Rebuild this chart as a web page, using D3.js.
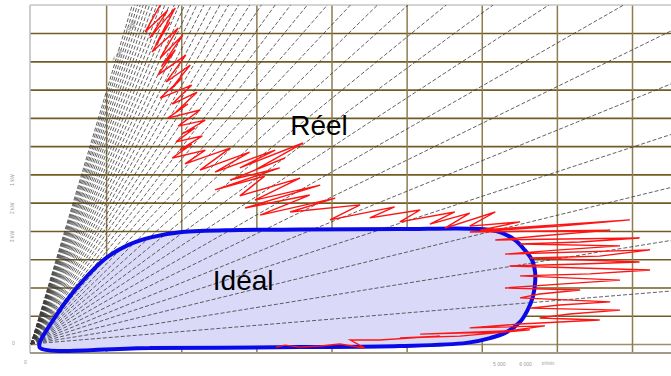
<!DOCTYPE html>
<html>
<head>
<meta charset="utf-8">
<script src="https://cdn.jsdelivr.net/npm/d3@7"></script>
<style>
  body { margin: 0; background: #fff; }
  svg { display: block; font-family: "Liberation Sans", Arial, sans-serif; }
</style>
</head>
<body>
<svg id="chart" width="671" height="376"></svg>
<script>
// grid ticks (data units)
var xTicks = [1, 2, 3, 4, 5, 6, 7, 8];
var yTicks = [0, 1, 2, 3, 4, 5, 6, 7, 8, 9, 10, 11];

// slopes of the dashed iso-lines from the origin
var raySlopes = [0.22, 0.43, 0.65, 0.87, 1.08, 1.30, 1.52, 1.74, 1.95, 2.17,
  2.39, 2.60, 2.82, 3.04, 3.26, 3.47, 3.69, 3.91, 4.12, 4.34,
  4.56, 4.77, 4.99, 5.21, 5.43, 5.64, 5.86, 6.08, 6.29, 6.51,
  6.73, 6.94, 7.16, 7.38, 7.60, 7.81, 8.03, 8.25, 8.46, 8.68, 8.90];

// ideal envelope (closed outline, clockwise from bottom-left)
var idealX = [0.12, 1.58, 3.58, 4.91, 5.80, 6.11, 6.33, 6.51, 6.61, 6.68, 6.71, 6.71,
  6.67, 6.57, 6.44, 6.24, 5.98, 4.91, 3.58, 2.78, 2.01, 1.61, 1.29, 1.02,
  0.81, 0.63, 0.47, 0.33, 0.21, 0.12];
var idealY = [-0.14, -0.14, -0.11, -0.07, 0.04, 0.21, 0.42, 0.78, 1.20, 1.66, 2.16, 2.55,
  2.97, 3.33, 3.68, 3.96, 4.07, 4.07, 4.05, 4.03, 3.96, 3.78, 3.50, 3.08,
  2.58, 2.05, 1.52, 0.99, 0.50, 0.07];

// real measured trace
var reelX = [1.72, 1.52, 1.82, 1.58, 1.92, 1.66, 1.85, 1.61, 1.96, 1.72,
  2.02, 1.74, 1.92, 1.69, 2.06, 1.80, 2.12, 1.85, 2.01, 1.72,
  2.14, 1.88, 2.21, 1.93, 2.09, 1.82, 2.25, 1.96, 2.32, 2.01,
  2.18, 1.93, 2.28, 1.98, 2.14, 1.88, 2.32, 2.05,
  2.65, 2.25, 2.91, 2.45, 3.25, 2.78, 3.62, 2.98, 3.38, 2.65,
  3.31, 2.45, 3.11, 2.78, 3.58, 2.98, 3.85, 2.85, 3.71, 3.05,
  4.05, 3.45, 4.38, 3.98, 4.84, 4.51, 5.18, 4.91, 5.64, 5.31,
  5.84, 5.51, 6.18, 5.84, 6.51,
  5.98, 7.97, 7.04, 5.84, 7.71, 6.77, 6.18, 8.10, 7.31, 6.51,
  7.84, 7.04, 6.31, 8.24, 7.57, 6.64, 8.10, 7.31, 6.37, 8.24,
  7.44, 6.51, 7.84, 7.04, 6.31, 7.31, 6.77, 6.51, 7.71, 7.04,
  6.64, 7.84, 7.17, 6.77, 7.57, 6.51, 5.84, 6.84, 6.24, 5.18,
  6.64, 5.71, 4.91,
  5.44, 4.64, 4.25, 4.44, 4.11, 3.85, 3.58, 3.38, 3.26];
var reelY = [11.99, 11.04, 11.81, 10.82, 11.89, 10.58, 11.39, 10.33, 11.18, 10.12,
  10.93, 9.83, 10.40, 9.52, 10.22, 9.27, 9.87, 8.98, 9.41, 8.70,
  9.16, 8.49, 8.91, 8.21, 8.49, 7.99, 8.28, 7.71, 7.92, 7.43,
  7.64, 7.15, 7.36, 6.86, 7.07, 6.58, 6.86, 6.37,
  6.93, 6.15, 6.79, 6.08, 6.86, 6.23, 7.11, 6.15, 6.58, 5.80,
  6.23, 5.45, 5.94, 5.24, 5.87, 5.09, 5.62, 4.81, 5.27, 4.56,
  5.16, 4.67, 4.92, 4.39, 4.85, 4.46, 4.74, 4.32, 4.67, 4.24,
  4.63, 4.10, 4.67, 4.17, 4.32,
  4.03, 4.39, 4.17, 3.96, 4.03, 3.82, 3.68, 3.75, 3.61, 3.54,
  3.47, 3.33, 3.18, 3.33, 3.11, 3.04, 2.90, 2.83, 2.76, 2.62,
  2.48, 2.41, 2.26, 2.12, 1.98, 1.91, 1.77, 1.63, 1.49, 1.38,
  1.27, 1.20, 1.06, 0.92, 0.85, 0.71, 0.57, 0.64, 0.42, 0.35,
  0.50, 0.28, 0.21,
  0.28, 0.14, 0.14, -0.14, 0.00, -0.07, -0.11, -0.04, -0.11];

var svg = d3.select('#chart');
var W = +svg.attr('width');

var x = d3.scaleLinear().domain([0, 8]).range([31, 632]);
var y = d3.scaleLinear().domain([0, 12]).range([344, 4.8]);
var xMax = x.invert(W);

svg.append('clipPath').attr('id', 'plot')
  .append('rect').attr('x', 30).attr('y', 5).attr('width', W - 30).attr('height', 348);

// grid
svg.append('g')
  .attr('transform', 'translate(30,0)')
  .call(d3.axisLeft(y).tickValues(yTicks).tickSize(-(W - 30)).tickFormat(''))
  .call(function(g) {
    g.select('.domain').remove();
    g.selectAll('line').attr('stroke', function(d) { return d === 0 ? '#9a8e6e' : '#725c24'; })
      .attr('stroke-width', 1.6);
  });

svg.append('g')
  .attr('transform', 'translate(0,353)')
  .call(d3.axisBottom(x).tickValues(xTicks).tickSize(-348).tickFormat(''))
  .call(function(g) {
    g.select('.domain').remove();
    g.selectAll('line').attr('stroke', '#8d7c4e').attr('stroke-width', 1.5);
  });

// frame
svg.append('line').attr('x1', 30).attr('x2', W).attr('y1', 5).attr('y2', 5)
  .attr('stroke', '#c6c6c6').attr('stroke-width', 1.5);
svg.append('line').attr('x1', 30).attr('x2', 30).attr('y1', 5).attr('y2', 353)
  .attr('stroke', '#bdbdbd').attr('stroke-width', 1.5);
svg.append('line').attr('x1', 30).attr('x2', W).attr('y1', 353).attr('y2', 353)
  .attr('stroke', '#a29a88').attr('stroke-width', 2);

var plot = svg.append('g').attr('clip-path', 'url(#plot)');

var idealPts = idealX.map(function(v, i) { return [v, idealY[i]]; });
var reelPts = reelX.map(function(v, i) { return [v, reelY[i]]; });

var closedLine = d3.line()
  .x(function(d) { return x(d[0]); })
  .y(function(d) { return y(d[1]); })
  .curve(d3.curveCatmullRomClosed.alpha(0.5));

// ideal fill
plot.append('path').datum(idealPts)
  .attr('d', closedLine)
  .attr('fill', '#dadaf8')
  .attr('stroke', 'none');

// rays from origin
plot.selectAll('line.ray')
  .data(raySlopes)
  .enter().append('line')
  .attr('class', 'ray')
  .attr('x1', x(0)).attr('y1', y(0))
  .attr('x2', function(k) { return x(Math.min(xMax, 12 / k)); })
  .attr('y2', function(k) { return y(Math.min(12, k * xMax)); })
  .attr('stroke', '#3a3a3a')
  .attr('stroke-width', 0.8)
  .attr('stroke-dasharray', '4,2');

// ideal outline
plot.append('path').datum(idealPts)
  .attr('d', closedLine)
  .attr('fill', 'none')
  .attr('stroke', '#0a0ae8')
  .attr('stroke-width', 4);

// real trace
plot.append('path').datum(reelPts)
  .attr('d', d3.line()
    .x(function(d) { return x(d[0]); })
    .y(function(d) { return y(d[1]); }))
  .attr('fill', 'none')
  .attr('stroke', '#ff1414')
  .attr('stroke-width', 1.4)
  .attr('stroke-linejoin', 'miter');

// labels
svg.append('text').attr('x', x(3.45)).attr('y', y(7.39))
  .attr('font-size', 28).attr('fill', '#000').text('Réel');
svg.append('text').attr('x', x(2.42)).attr('y', y(1.91))
  .attr('font-size', 28).attr('fill', '#000').text('Idéal');

// faint small annotations (barely legible in the source)
var tiny = svg.append('g').attr('fill', '#9a9a9a').attr('font-size', 5);
tiny.append('text').attr('transform', 'translate(' + x(1.33) + ',' + y(11.0) + ') rotate(-68)').attr('font-size', 8).text('Tge');
tiny.append('text').attr('transform', 'translate(' + x(1.15) + ',' + y(9.95) + ') rotate(-68)').attr('font-size', 8).text('Tge');
tiny.append('text').attr('transform', 'translate(14,' + y(5.6) + ') rotate(-90)').text('1 kW');
tiny.append('text').attr('transform', 'translate(14,' + y(4.6) + ') rotate(-90)').text('2 kW');
tiny.append('text').attr('transform', 'translate(14,' + y(3.6) + ') rotate(-90)').text('3 kW');
tiny.append('text').attr('x', 12).attr('y', y(-0.05)).text('0');
tiny.append('text').attr('x', 24).attr('y', 364).text('0');
tiny.append('text').attr('x', x(6.15)).attr('y', 366).text('5 000');
tiny.append('text').attr('x', x(6.5)).attr('y', 366).text('6 000');
tiny.append('text').attr('x', x(6.8)).attr('y', 365).text('tr/min');
</script>
</body>
</html>
